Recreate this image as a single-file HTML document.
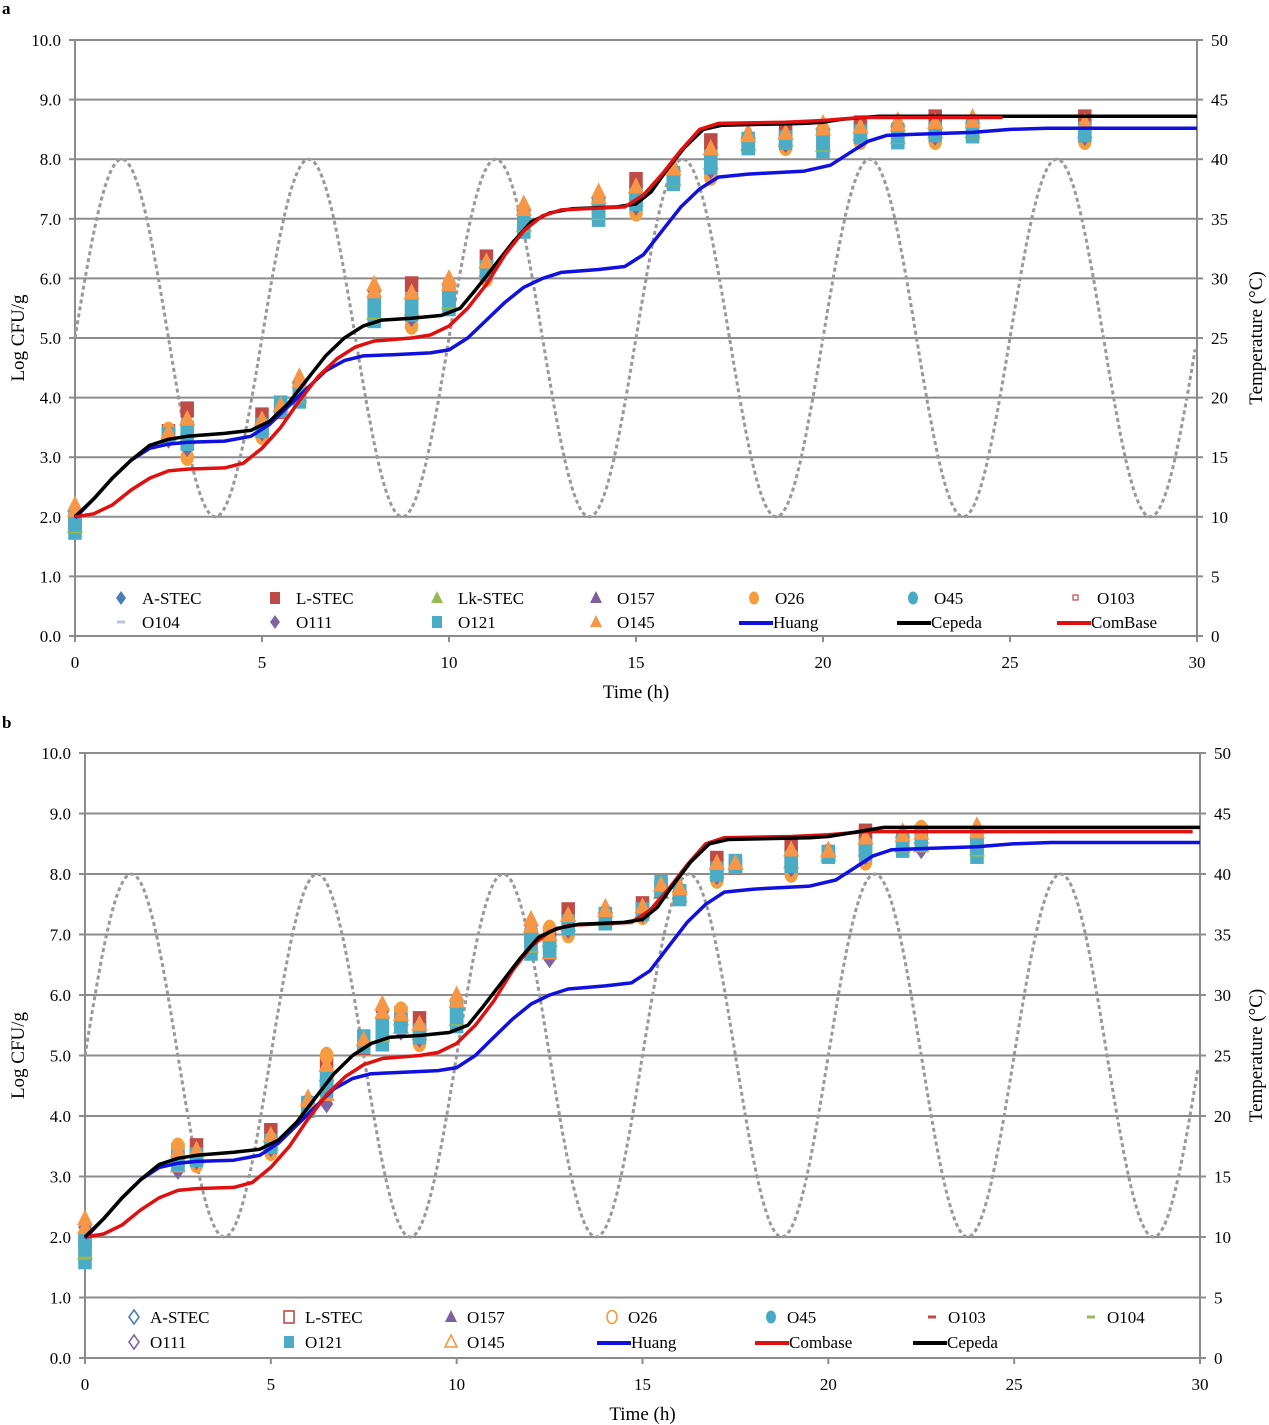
<!DOCTYPE html>
<html><head><meta charset="utf-8"><style>
html,body{margin:0;padding:0;background:#fff}
svg{display:block}
text{font-family:"Liberation Serif",serif;fill:#000}
</style></head><body>
<svg id="s" width="1269" height="1425" xmlns="http://www.w3.org/2000/svg"></svg>
<script>
const S=document.getElementById('s');let h='';
const cols={as:'#4a7ebb',ls:'#be4b48',lk:'#98b954',o157:'#7d5fa0',o26:'#f59d3d',o45:'#46aac5',o145:'#f79646',o111:'#8064a2',o121:'#4bacc6'};
let MS=1;
function chart(C){
 const {x0,x1,y0,y1}=C;const X=t=>x0+(x1-x0)*t/30, Y=v=>y1-(y1-y0)*v/10;
 for(let i=0;i<=10;i++){const y=Y(i);h+=`<line x1="${x0}" y1="${y}" x2="${x1}" y2="${y}" stroke="#8c8c8c" stroke-width="2"/>`;
  h+=`<text x="${x0-14}" y="${y+6}" font-size="17" text-anchor="end">${i.toFixed(1)}</text>`;
  h+=`<text x="${x1+14}" y="${y+6}" font-size="17">${i*5}</text>`;
  h+=`<line x1="${x0-6}" y1="${y}" x2="${x0}" y2="${y}" stroke="#8c8c8c" stroke-width="2"/><line x1="${x1}" y1="${y}" x2="${x1+6}" y2="${y}" stroke="#8c8c8c" stroke-width="2"/>`;}
 h+=`<line x1="${x0}" y1="${y0}" x2="${x0}" y2="${y1+6}" stroke="#8c8c8c" stroke-width="2"/><line x1="${x1}" y1="${y0}" x2="${x1}" y2="${y1+6}" stroke="#8c8c8c" stroke-width="2"/>`;
 for(let t=0;t<=30;t+=5){h+=`<line x1="${X(t)}" y1="${y1}" x2="${X(t)}" y2="${y1+6}" stroke="#8c8c8c" stroke-width="2"/><text x="${X(t)}" y="${y1+32}" font-size="17" text-anchor="middle">${t}</text>`;}
 h+=`<text x="${(x0+x1)/2}" y="${y1+62}" font-size="19" text-anchor="middle">Time (h)</text>`;
 h+=`<text transform="translate(${C.ly},${(y0+y1)/2}) rotate(-90)" font-size="19" text-anchor="middle">Log CFU/g</text>`;
 h+=`<text transform="translate(${C.ry},${(y0+y1)/2}) rotate(-90)" font-size="19" text-anchor="middle">Temperature (°C)</text>`;
 let p=[];for(let t=0;t<=30;t+=0.05){const T=25+15*Math.sin(2*Math.PI*t/5);p.push(X(t).toFixed(1)+','+Y(T/5).toFixed(1));}
 h+=`<polyline points="${p.join(' ')}" fill="none" stroke="#999" stroke-width="3" stroke-dasharray="4,3"/>`;
 MS=1.35;
 C.pts.forEach(([t,lo,hi])=>{const n=6;const x=X(t);
  const seq=[['sq',cols.o121],['tri',cols.o145],['dia',cols.o111],['cir',cols.o26],['sq',cols.ls],['tri',cols.lk]];
  for(let k=0;k<n;k++){const v=lo+(hi-lo)*k/(n-1);const [sh,c]=seq[(k*5+Math.round(t*3))%6];h+=mk(sh,x,Y(v),c,C.open&&k%3==2);}
  h+=mk('sq',x,Y((lo+hi)/2),cols.o121);h+=mk('sq',x,Y(lo+(hi-lo)*0.3),cols.o121);h+=mk('tri',x,Y(hi-(hi-lo)*0.2),cols.o145);
 });
 MS=1;
 C.curves.forEach(([c,arr])=>{h+=`<polyline points="${arr.map(([t,v])=>X(t).toFixed(1)+','+Y(v).toFixed(1)).join(' ')}" fill="none" stroke="${c}" stroke-width="3.5" stroke-linejoin="round"/>`;});
 C.leg.forEach(([x,y,type,c,lab])=>{
  if(type=='line'){h+=`<line x1="${x-34}" y1="${y-5}" x2="${x}" y2="${y-5}" stroke="${c}" stroke-width="4"/><text x="${x}" y="${y}" font-size="17">${lab}</text>`;}
  else{h+=mk(type,x,y-6,c,false);h+=`<text x="${x+C.lo}" y="${y}" font-size="17">${lab}</text>`;}
 });
}
function mk(sh,x,y,c,open){
 let fill=open?'none':c,st=open?`stroke="${c}" stroke-width="1.6"`:'';
 if(['odia','osq','ocir','otri'].includes(sh)){sh=sh.slice(1);fill='none';st=`stroke="${c}" stroke-width="1.6"`;}
 const m=MS;
 switch(sh){
  case 'sq':return `<rect x="${x-5*m}" y="${y-6*m}" width="${10*m}" height="${12*m}" fill="${fill}" ${st}/>`;
  case 'tri':return `<polygon points="${x},${y-7*m} ${x+6*m},${y+5*m} ${x-6*m},${y+5*m}" fill="${fill}" ${st}/>`;
  case 'dia':return `<polygon points="${x},${y-7*m} ${x+5*m},${y} ${x},${y+7*m} ${x-5*m},${y}" fill="${fill}" ${st}/>`;
  case 'cir':return `<ellipse cx="${x}" cy="${y}" rx="${5*m}" ry="${6.5*m}" fill="${fill}" ${st}/>`;
  case 'dash':return `<rect x="${x-4}" y="${y-1.5}" width="8" height="3" fill="${c}"/>`;
  case 'sdash':return `<rect x="${x-3}" y="${y-3}" width="5" height="5" fill="none" stroke="${c}" stroke-width="1.2"/>`;
 }return '';
}
const cep=[[0,2.0],[0.5,2.3],[1,2.65],[1.5,2.95],[2,3.2],[2.5,3.3],[3,3.35],[4,3.4],[4.7,3.45],[5.2,3.6],[5.7,3.9],[6.2,4.3],[6.7,4.7],[7.2,5.0],[7.7,5.2],[8.2,5.3],[9,5.33],[9.8,5.38],[10.3,5.5],[10.7,5.8],[11.2,6.2],[11.7,6.6],[12.2,6.95],[12.7,7.1],[13.3,7.17],[14.5,7.2],[15,7.25],[15.4,7.45],[15.8,7.8],[16.3,8.2],[16.8,8.5],[17.3,8.57],[19.5,8.6],[20,8.62],[20.5,8.67],[21.5,8.72],[30,8.72]];
const cb=[[0,2.0],[0.5,2.05],[1,2.2],[1.5,2.45],[2,2.65],[2.5,2.77],[3,2.8],[4,2.82],[4.5,2.9],[5,3.15],[5.5,3.5],[6,3.95],[6.5,4.35],[7,4.65],[7.5,4.85],[8,4.95],[9,5.0],[9.5,5.05],[10,5.2],[10.5,5.5],[11,5.9],[11.5,6.4],[12,6.8],[12.5,7.05],[13,7.15],[14,7.18],[14.7,7.2],[15.2,7.4],[15.7,7.75],[16.2,8.15],[16.7,8.5],[17.2,8.6],[19,8.62],[20,8.65],[21,8.7]];
const hu=[[0,1.98],[0.5,2.3],[1,2.65],[1.5,2.95],[2,3.15],[2.5,3.22],[3,3.25],[4,3.27],[4.7,3.35],[5.2,3.55],[5.7,3.85],[6.2,4.15],[6.7,4.45],[7.2,4.62],[7.7,4.7],[8.5,4.72],[9.5,4.75],[10,4.8],[10.5,5.0],[11,5.3],[11.5,5.6],[12,5.85],[12.5,6.0],[13,6.1],[14,6.15],[14.7,6.2],[15.2,6.4],[15.7,6.8],[16.2,7.2],[16.7,7.5],[17.2,7.7],[18,7.75],[19.5,7.8],[20.2,7.9],[20.7,8.1],[21.2,8.3],[21.7,8.4],[22.5,8.42],[24,8.45],[25,8.5],[26,8.52],[30,8.52]];
h+=`<text x="2" y="14" font-size="17" font-weight="bold">a</text><text x="2" y="728" font-size="17" font-weight="bold">b</text>`;
chart({x0:75,x1:1197,y0:40,y1:636,ly:24,ry:1262,lo:21,
 pts:[[0,1.75,2.2],[2.5,3.3,3.45],[3,3.0,3.8],[5,3.35,3.7],[5.5,3.75,3.9],[6,3.95,4.35],[8,5.3,5.9],[9,5.2,5.9],[10,5.5,6.0],[11,6.0,6.35],[12,6.8,7.25],[14,7.0,7.45],[15,7.1,7.65],[16,7.6,7.9],[17,7.7,8.3],[18,8.2,8.45],[19,8.2,8.5],[20,8.15,8.6],[21,8.3,8.6],[22,8.3,8.65],[23,8.3,8.7],[24,8.4,8.7],[27,8.3,8.7]],
 curves:[['#1010e0',hu],['#000',cep],['#e01010',cb.concat([[24.8,8.7]])]],
 leg:[[121,604,'dia',cols.as,'A-STEC'],[275,604,'sq',cols.ls,'L-STEC'],[437,604,'tri',cols.lk,'Lk-STEC'],[596,604,'tri',cols.o157,'O157'],[754,604,'cir',cols.o26,'O26'],[913,604,'cir',cols.o45,'O45'],[1076,604,'sdash','#be4b48','O103'],
  [121,628,'dash','#b9c3dd','O104'],[275,628,'dia',cols.o111,'O111'],[437,628,'sq',cols.o121,'O121'],[596,628,'tri',cols.o145,'O145'],[773,628,'line','#1010e0','Huang'],[931,628,'line','#000','Cepeda'],[1091,628,'line','#e01010','ComBase']]});
chart({x0:85,x1:1200,y0:753,y1:1358,ly:24,ry:1262,lo:16,
 pts:[[0,1.6,2.3],[2.5,3.1,3.5],[3,3.2,3.5],[5,3.4,3.75],[6,4.1,4.3],[6.5,4.2,5.0],[7.5,5.1,5.3],[8,5.2,5.85],[8.5,5.4,5.75],[9,5.2,5.6],[10,5.5,6.0],[12,6.7,7.25],[12.5,6.6,7.1],[13,7.0,7.4],[14,7.2,7.45],[15,7.3,7.5],[15.5,7.7,7.85],[16,7.6,7.8],[17,7.9,8.25],[17.5,8.1,8.2],[19,8.0,8.5],[20,8.3,8.4],[21,8.2,8.7],[22,8.4,8.7],[22.5,8.4,8.75],[24,8.3,8.8]],
 curves:[['#1010e0',hu],['#e01010',cb.concat([[29.8,8.7]])],['#000',cep.map(([t,v])=>[t,v>=8.7?8.77:v])]],
 leg:[[134,1323,'odia','#4a7ebb','A-STEC'],[289,1323,'osq','#be4b48','L-STEC'],[451,1323,'tri',cols.o157,'O157'],[612,1323,'ocir','#f59d3d','O26'],[771,1323,'cir',cols.o45,'O45'],[932,1323,'dash','#be4b48','O103'],[1091,1323,'dash','#98b954','O104'],
  [134,1348,'odia',cols.o111,'O111'],[289,1348,'sq',cols.o121,'O121'],[451,1348,'otri',cols.o145,'O145'],[631,1348,'line','#1010e0','Huang'],[789,1348,'line','#e01010','Combase'],[947,1348,'line','#000','Cepeda']]});
S.innerHTML=h;
</script>
</body></html>
